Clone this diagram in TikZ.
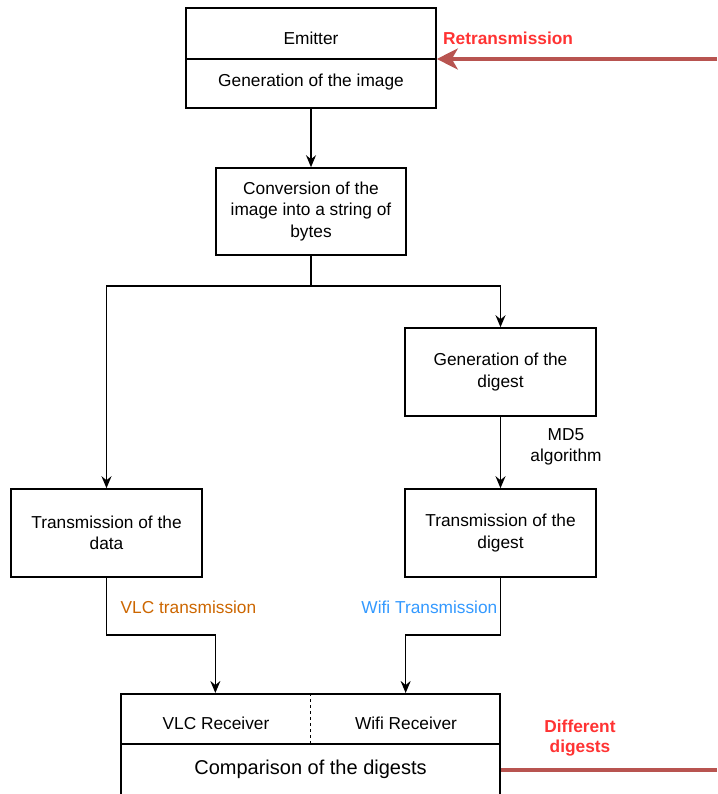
\documentclass[tikz,border=0pt]{standalone}
\usepackage{fontspec}
\setmainfont{Liberation Sans}
\usetikzlibrary{arrows.meta,calc}
\definecolor{lnred}{HTML}{B85450}
\definecolor{txred}{HTML}{FF3333}
\definecolor{txorange}{HTML}{CC6600}
\definecolor{txblue}{HTML}{3399FF}
\begin{document}
\begin{tikzpicture}[x=1pt,y=-1pt,
  box/.style={draw,line width=1.6pt,minimum width=191pt,minimum height=88pt,align=center,inner sep=0pt,font=\fontsize{17.3}{21.5}\selectfont},
  lbl/.style={font=\fontsize{17.3}{21}\selectfont,inner sep=0pt,align=center},
  arr/.style={line width=1.6pt,-{Stealth[length=12pt,width=10pt,inset=4pt]}},
  ln/.style={line width=1.6pt},
  redln/.style={draw=lnred,line width=3.5pt},
  redlbl/.style={inner sep=0pt,align=center,text=txred,font=\fontsize{17.3}{20}\selectfont\bfseries}]
\useasboundingbox (0,0) rectangle (717,794);
\clip (0,0) rectangle (717,794);
% boxes
\node[box,minimum width=250pt,minimum height=100pt] (emit) at (311,58) {};
\node[box,minimum width=190pt,minimum height=87pt] (conv) at (311,211.5) {Conversion of the\\image into a string of\\bytes};
\node[box] (gend) at (500.5,372) {Generation of the\\digest};
\node[box] (trd) at (106.5,533) {Transmission of the\\data};
\node[box] (trg) at (500.5,533) {Transmission of the\\digest};
\node[box,minimum width=379pt,minimum height=130pt,anchor=north] (recv) at (310.5,693) {};
% emitter contents
\draw[ln] ($(emit.west)+(0,1)$) -- ($(emit.east)+(0,1)$);
\node[lbl] (emt) at (311,38) {Emitter};
\node[lbl] (geni) at (311,82) {Generation of the image};
% receiver contents
\coordinate (rd) at ($(recv.north)+(0,51)$);
\draw[ln] (recv.west |- rd) -- (recv.east |- rd);
\draw[ln,dashed] (recv.north) -- (rd);
\node[lbl] (vlcr) at (216,723) {VLC Receiver};
\node[lbl] (wifr) at (406,723) {Wifi Receiver};
\node[lbl,font=\fontsize{20}{24}\selectfont] (cmp) at (310.5,769) {Comparison of the digests};
% connectors
\coordinate (j) at ($(conv.south)+(0,30)$);
\draw[arr] (emit.south) -- (conv.north);
\draw[arr] (conv.south) -- (j) -| (trd.north);
\draw[arr] (j) -| (gend.north);
\draw[arr] (gend.south) -- (trg.north);
\coordinate (rv) at ($(recv.north west)!0.25!(recv.north east)$);
\coordinate (rw) at ($(recv.north west)!0.75!(recv.north east)$);
\draw[arr] (trd.south) -- ++(0,57) -| (rv);
\draw[arr] (trg.south) -- ++(0,57) -| (rw);
% connector labels
\node[lbl] (md5) at (566,447) {MD5\\algorithm};
\node[lbl,anchor=west,text=txorange] (vlct) at (120.5,607) {VLC transmission};
\node[lbl,anchor=east,text=txblue] (wift) at (497.5,607) {Wifi Transmission};
% red feedback
\coordinate (rin) at (717,59);
\draw[redln,-{Stealth[length=21pt,width=21pt,inset=6pt]}] (rin) -- ($(emit.east)+(0,1)$);
\node[redlbl,anchor=west] (retr) at (443,38) {Retransmission};
\coordinate (rout) at (717,770);
\draw[redln] (recv.east |- rout) -- (rout);
\node[redlbl] (diff) at (580,738.5) {Different\\digests};
\end{tikzpicture}
\end{document}
